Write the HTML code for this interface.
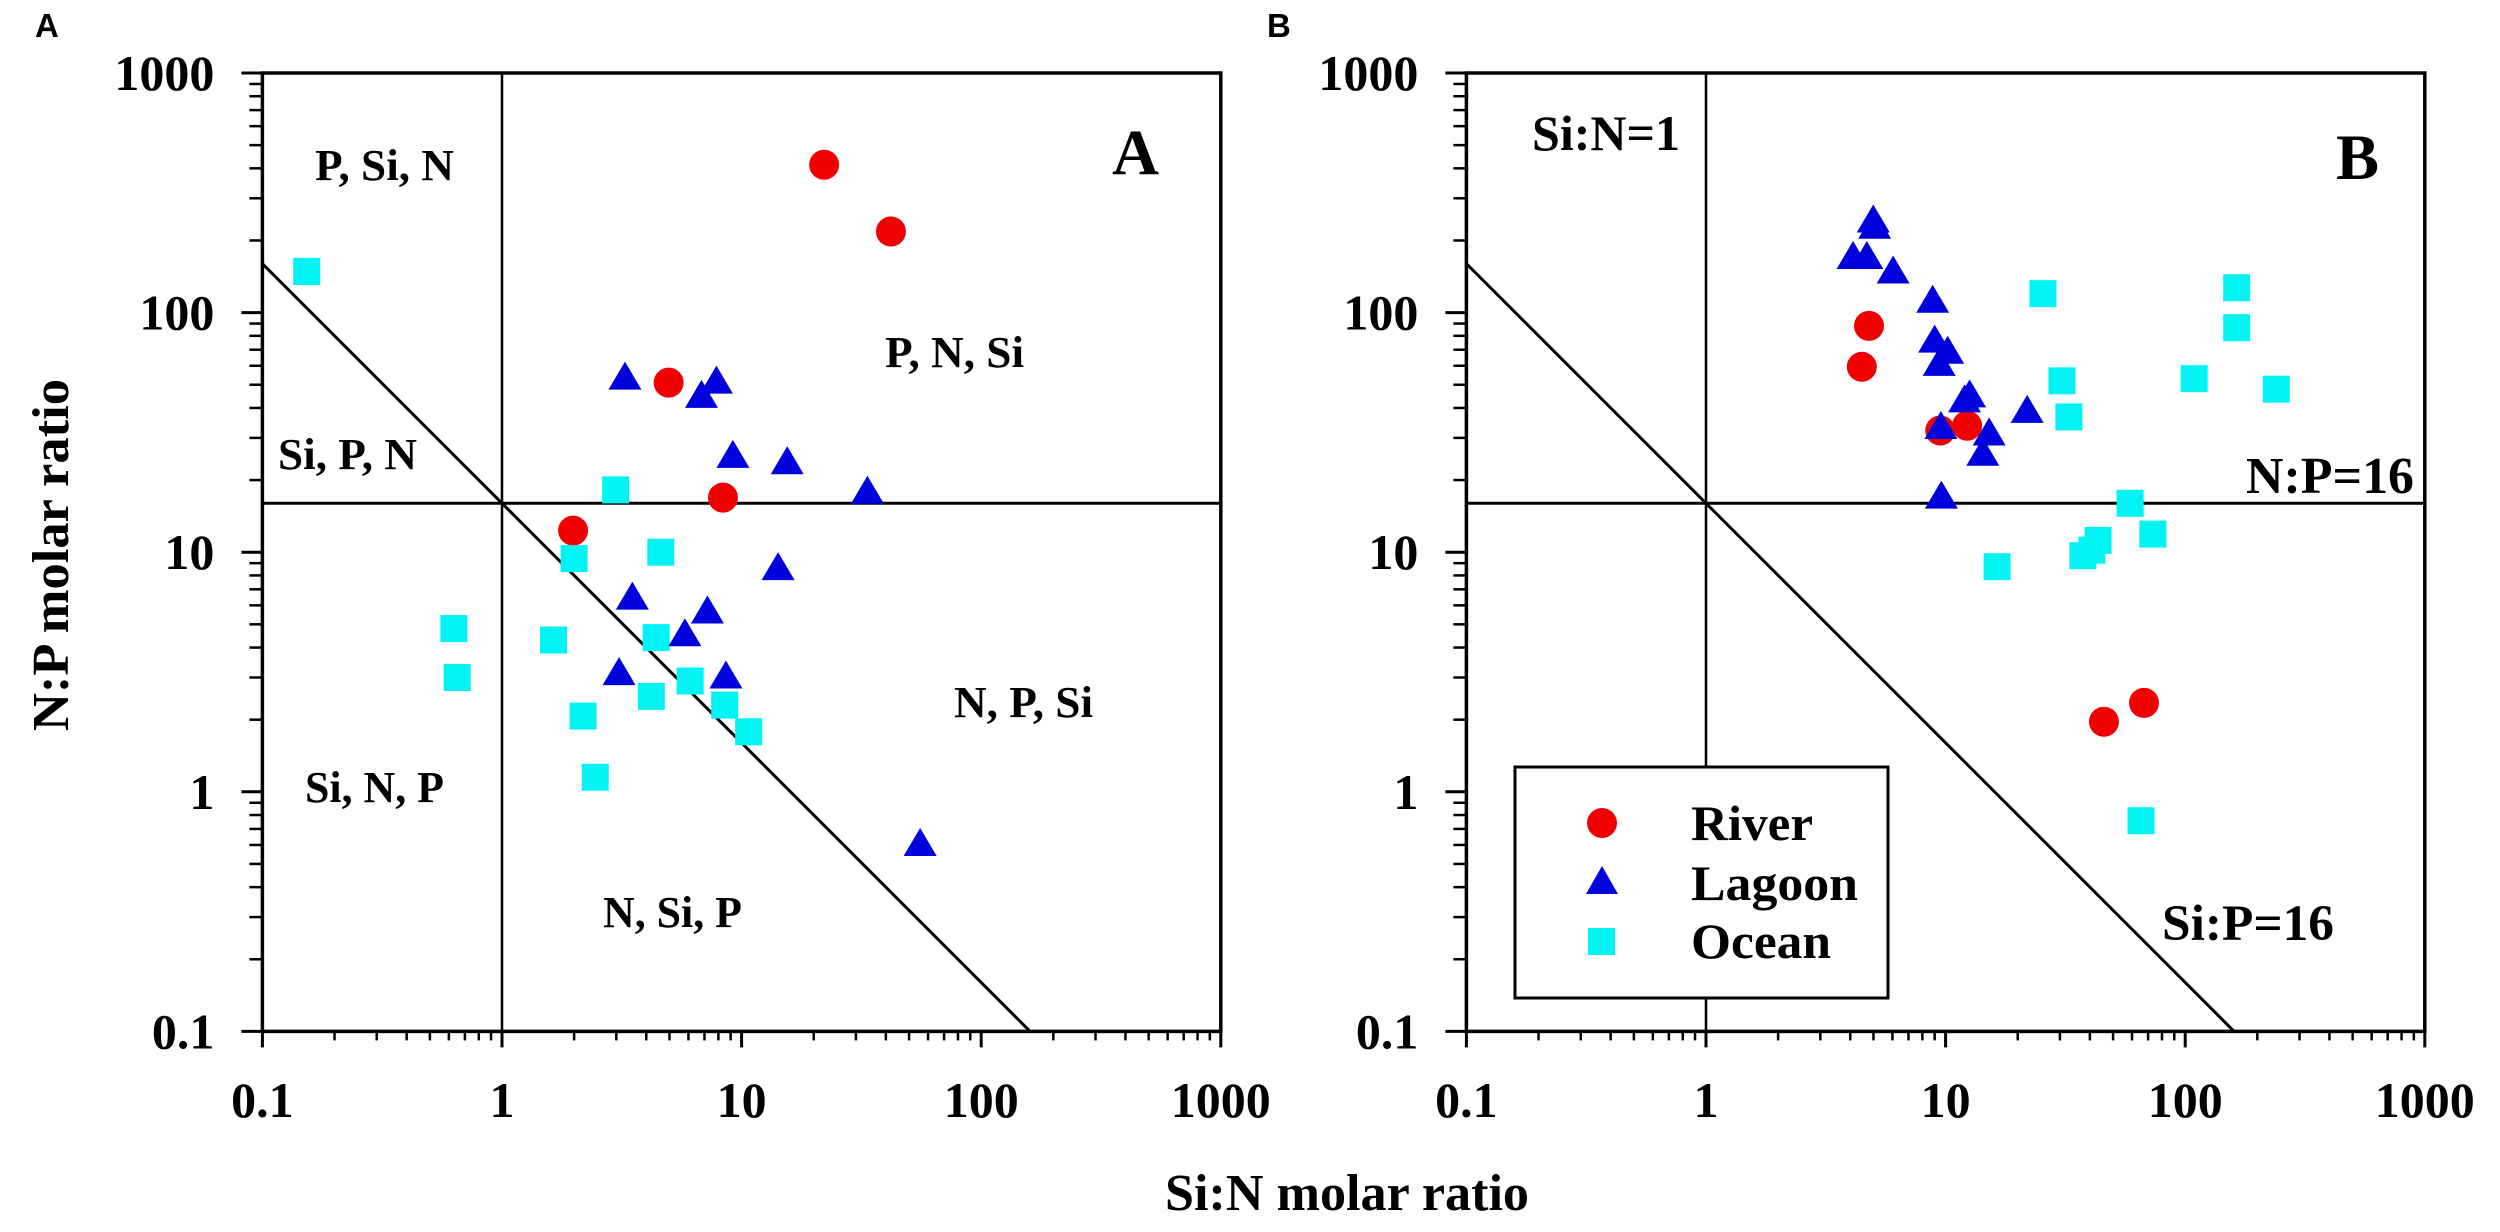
<!DOCTYPE html>
<html><head><meta charset="utf-8"><style>
html,body{margin:0;padding:0;background:#fff;}
svg{display:block;}
text{font-family:"Liberation Serif","Times New Roman",serif;font-weight:bold;fill:#000;}
</style></head><body>
<svg id="fig" width="2500" height="1232" viewBox="0 0 2500 1232" xmlns="http://www.w3.org/2000/svg" font-family="Liberation Serif, serif">
<text x="35" y="37" style="font-family:'Liberation Sans',sans-serif;font-size:33px">A</text>
<text x="1267" y="37" style="font-family:'Liberation Sans',sans-serif;font-size:33px">B</text>
<text x="1165" y="1210" font-size="52" textLength="364" lengthAdjust="spacingAndGlyphs">Si:N molar ratio</text>
<text x="0" y="0" transform="translate(68,731) rotate(-90)" font-size="52" textLength="352" lengthAdjust="spacingAndGlyphs">N:P molar ratio</text>
</svg>
<script>
const tickValues = [0.1, 1, 10, 100, 1000];
const tickLabels = ["0.1", "1", "10", "100", "1000"];
const refNP = 16;   // N:P = 16
const refSiN = 1;   // Si:N = 1
const refSiP = 16;  // Si:P = 16

const riverA_x = [22.1, 42, 4.96, 8.36, 1.98];
const riverA_y = [414, 218, 51, 16.9, 12.3];
const lagoonA_x = [3.26, 7.85, 6.8, 9.2, 15.5, 33.5, 14.2, 3.5, 7.2, 5.8, 3.08, 8.6, 55.6];
const lagoonA_y = [53, 51, 44.5, 25, 23.5, 17.7, 8.5, 6.4, 5.6, 4.5, 3.1, 3.0, 0.6];
const oceanA_x = [0.153, 2.98, 2.0, 4.6, 0.63, 1.64, 4.4, 0.65, 4.2, 6.1, 2.18, 8.5, 10.7, 2.45];
const oceanA_y = [148.6, 18.2, 9.4, 10, 4.8, 4.3, 4.4, 3.0, 2.5, 2.9, 2.07, 2.3, 1.78, 1.15];

const riverB_x = [4.79, 4.47, 9.5, 12.3, 67.3, 45.8];
const riverB_y = [88, 59.4, 32.2, 33.7, 2.35, 1.96];
const lagoonB_x = [4.99, 5.06, 4.11, 4.69, 6.04, 8.83, 9.0, 10.2, 9.4, 12.6, 12.0, 21.9, 9.56, 15.2, 14.3, 9.6];
const lagoonB_y = [240, 226, 169, 169, 147, 111, 75.7, 68, 60.5, 44.7, 42.6, 38.5, 33, 31, 25.5, 16.9];
const oceanB_x = [25.5, 30.6, 32.7, 16.4, 58.9, 73.3, 43.3, 40.8, 37.4, 164, 164, 109, 240, 65.4];
const oceanB_y = [120, 51.9, 36.7, 8.7, 16, 11.9, 11.2, 10.2, 9.67, 127, 86.5, 53, 47.9, 0.757];

const NS = "http://www.w3.org/2000/svg";
const svg = document.getElementById('fig');
function mk(tag, attrs, parent){
  const e = document.createElementNS(NS, tag);
  for (const k in attrs) e.setAttribute(k, attrs[k]);
  (parent||svg).appendChild(e);
  return e;
}
function digitWidth(s){ let w=0; for (const c of s) w += (c==='.') ? 12.5 : 25; return w; }
const DEC = 239.6, TOP = 73, BOT = 1031.4;
function makeAxes(left){
  const right = left + 4*DEC;
  return {
    left, right,
    x: v => left + (Math.log10(v) + 1) * DEC,
    y: v => BOT - (Math.log10(v) + 1) * DEC
  };
}
function drawPanel(ax, name, data, labels){
  const g = mk('g', {});
  
  
  for (let d = 0; d < 4; d++){
    for (let m = 2; m <= 9; m++){
      const v = tickValues[d]*m;
      const ty = mk('line', {x1: ax.left-13, x2: ax.left, y1: ax.y(v), y2: ax.y(v), stroke:'#000','stroke-width':2.5}, g);
      
      
      const tx = mk('line', {x1: ax.x(v), x2: ax.x(v), y1: BOT, y2: BOT+9, stroke:'#000','stroke-width':2.5}, g);
      
      
    }
  }
  tickValues.forEach((v,i) => {
    const ty = mk('line', {x1: ax.left-21, x2: ax.left, y1: ax.y(v), y2: ax.y(v), stroke:'#000','stroke-width':3}, g);
    
    
    const tx = mk('line', {x1: ax.x(v), x2: ax.x(v), y1: BOT, y2: BOT+16, stroke:'#000','stroke-width':3}, g);
    
    
    const w = digitWidth(tickLabels[i]);
    const ly = mk('text', {x: ax.left-48-w, y: ax.y(v)+17, 'font-size':50, textLength: w, lengthAdjust:'spacingAndGlyphs'}, g);
    ly.textContent = tickLabels[i];
    
    
    const lx = mk('text', {x: ax.x(v)-w/2, y: 1117, 'font-size':50, textLength: w, lengthAdjust:'spacingAndGlyphs'}, g);
    lx.textContent = tickLabels[i];
    
    
  });
  const h = mk('line', {x1: ax.left, x2: ax.right, y1: ax.y(refNP), y2: ax.y(refNP), stroke:'#000','stroke-width':3}, g);
  
  
  const vl = mk('line', {x1: ax.x(refSiN), x2: ax.x(refSiN), y1: TOP, y2: BOT, stroke:'#000','stroke-width':2.5}, g);
  
  
  const dg = mk('line', {x1: ax.x(0.1), y1: ax.y(refSiP/0.1), x2: ax.x(refSiP/0.1), y2: ax.y(0.1), stroke:'#000','stroke-width':3}, g);
  
  
  const fr = mk('rect', {x: ax.left, y: TOP, width: ax.right-ax.left, height: BOT-TOP, fill:'none', stroke:'#000','stroke-width':3.5}, g);
  
  
  labels.forEach(L => {
    // L: text, left x, baseline y, font size, width
    const t = mk('text', {x: L[1], y: L[2], 'font-size': L[3], textLength: L[4], lengthAdjust:'spacingAndGlyphs'}, g);
    t.textContent = L[0];
    
    
  });
  data.river[0].forEach((xv,i) => {
    const c = mk('circle', {cx: ax.x(xv), cy: ax.y(data.river[1][i]), r: 15, fill:'#f00000'}, g);
    
    
  });
  data.ocean[0].forEach((xv,i) => {
    const X = ax.x(xv), Y = ax.y(data.ocean[1][i]);
    const s = mk('rect', {x: X-13.5, y: Y-13.5, width: 27, height: 27, fill:'#00f4f4'}, g);
    
    
  });
  data.lagoon[0].forEach((xv,i) => {
    const X = ax.x(xv), Y = ax.y(data.lagoon[1][i]);
    const p = mk('polygon', {points: `${X},${Y-17} ${X-16.5},${Y+11} ${X+16.5},${Y+11}`, fill:'#0000dc'}, g);
    
    
  });
}
const axA = makeAxes(262.4);
const axB = makeAxes(1466.4);
drawPanel(axA, 'panel-a', {river:[riverA_x,riverA_y], lagoon:[lagoonA_x,lagoonA_y], ocean:[oceanA_x,oceanA_y]}, [
  ['P, Si, N', 315, 180, 44, 139], ['Si, P, N', 278, 469, 44, 139], ['P, N, Si', 885, 367, 44, 139],
  ['Si, N, P', 305, 802, 44, 139], ['N, Si, P', 603, 927, 44, 139], ['N, P, Si', 954, 717, 44, 139],
  ['A', 1112, 174, 65, 47]
]);
drawPanel(axB, 'panel-b', {river:[riverB_x,riverB_y], lagoon:[lagoonB_x,lagoonB_y], ocean:[oceanB_x,oceanB_y]}, [
  ['Si:N=1', 1532, 150, 50, 148], ['N:P=16', 2246, 493, 52, 168], ['Si:P=16', 2162, 940, 51, 172],
  ['B', 2336, 179, 65, 43]
]);
const lg = mk('g', {});


const lb = mk('rect', {x:1515, y:767, width:373, height:231, fill:'#fff', stroke:'#000','stroke-width':3}, lg);


const lc = mk('circle', {cx:1602, cy:823, r:15, fill:'#f00000'}, lg);


const lt = mk('polygon', {points:'1602,866 1586,894 1618,894', fill:'#0000dc'}, lg);


const ls = mk('rect', {x:1588, y:928, width:27, height:27, fill:'#00f4f4'}, lg);


[['River',840,122],['Lagoon',900,167],['Ocean',958,140]].forEach(r => {
  const t = mk('text', {x:1691, y:r[1], 'font-size':50, textLength:r[2], lengthAdjust:'spacingAndGlyphs'}, lg);
  t.textContent = r[0];
  
  
});
</script>
</body></html>
